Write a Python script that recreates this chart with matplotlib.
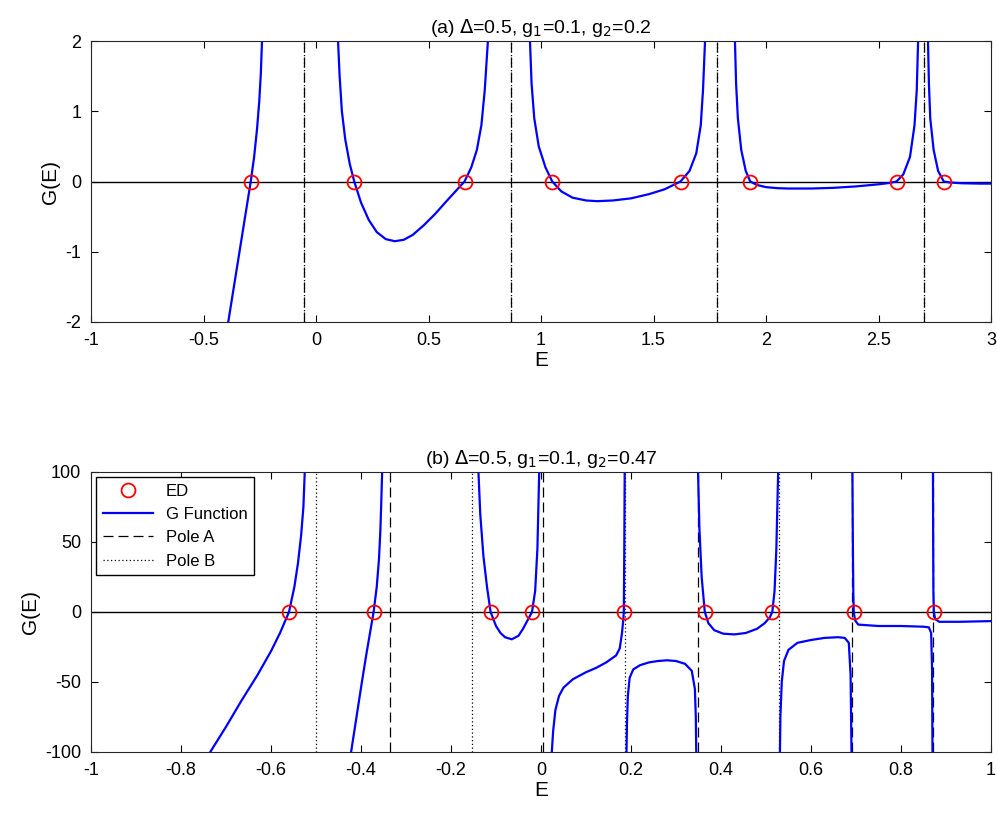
import matplotlib
matplotlib.use("Agg")
import matplotlib.pyplot as plt

plt.rcParams["font.family"] = "Liberation Sans"
plt.rcParams["font.size"] = 13

# (a) branches of G(E)
a_branches = [
    ([-0.39, -0.37, -0.35, -0.33, -0.31, -0.29, -0.275, -0.262, -0.252, -0.245, -0.24],
     [-2, -1.6, -1.2, -0.8, -0.4, 0, 0.35, 0.75, 1.15, 1.55, 2]),
    ([0.098, 0.105, 0.115, 0.13, 0.15, 0.17, 0.2, 0.235, 0.27, 0.31, 0.35, 0.39, 0.43, 0.48,
      0.53, 0.58, 0.62, 0.66, 0.69, 0.715, 0.735, 0.75, 0.764],
     [2, 1.5, 1.0, 0.6, 0.25, 0, -0.3, -0.55, -0.72, -0.82, -0.85, -0.83, -0.76, -0.62,
      -0.46, -0.28, -0.14, 0, 0.2, 0.45, 0.8, 1.3, 2]),
    ([0.951, 0.958, 0.97, 0.99, 1.02, 1.05, 1.09, 1.14, 1.2, 1.25, 1.32, 1.4, 1.48, 1.55,
      1.62, 1.66, 1.69, 1.71, 1.72, 1.729],
     [2, 1.4, 0.9, 0.5, 0.2, 0, -0.14, -0.23, -0.27, -0.28, -0.27, -0.24, -0.18, -0.11,
      0, 0.15, 0.4, 0.8, 1.3, 2]),
    ([1.862, 1.867, 1.875, 1.89, 1.91, 1.93, 1.96, 2.0, 2.05, 2.1, 2.2, 2.3, 2.4, 2.5,
      2.55, 2.58, 2.61, 2.64, 2.66, 2.67, 2.676],
     [2, 1.4, 0.9, 0.45, 0.15, 0, -0.05, -0.08, -0.095, -0.1, -0.1, -0.09, -0.07, -0.04,
      -0.02, 0, 0.1, 0.35, 0.8, 1.3, 2]),
    ([2.72, 2.724, 2.73, 2.745, 2.765, 2.79, 2.82, 2.87, 2.95, 3.0],
     [2, 1.4, 0.9, 0.45, 0.15, 0, -0.015, -0.025, -0.03, -0.03]),
]
a_ed = [-0.29, 0.17, 0.66, 1.05, 1.62, 1.93, 2.58, 2.79]
a_poles = [-0.053, 0.867, 1.782, 2.702]

# (b)
b_branches = [
    ([-0.735, -0.70, -0.665, -0.63, -0.60, -0.58, -0.56, -0.548, -0.54, -0.533, -0.528, -0.525],
     [-100, -82, -63, -45, -28, -15, 0, 18, 35, 55, 75, 100]),
    ([-0.422, -0.41, -0.398, -0.388, -0.38, -0.372, -0.365, -0.36, -0.357, -0.355, -0.353],
     [-100, -75, -50, -30, -15, 0, 18, 38, 58, 78, 100]),
    ([-0.139, -0.135, -0.128, -0.12, -0.112, -0.1, -0.09, -0.08, -0.065, -0.05, -0.04, -0.03,
      -0.02, -0.013, -0.008, -0.004],
     [100, 70, 40, 18, 0, -10, -15, -18, -19.5, -17, -12, -6, 0, 15, 45, 100]),
    ([0.024, 0.027, 0.032, 0.04, 0.05, 0.071, 0.1, 0.122, 0.145, 0.167, 0.175, 0.18, 0.183,
      0.184, 0.185, 0.186],
     [-100, -85, -70, -60, -54, -48, -43, -40, -36, -31, -26, -15, -5, 0, 40, 100]),
    ([0.19, 0.191, 0.193, 0.197, 0.205, 0.22, 0.24, 0.26, 0.28, 0.3, 0.32, 0.335, 0.342,
      0.344, 0.345],
     [-100, -80, -60, -47, -41, -38, -36, -35, -34.5, -35, -37, -42, -55, -75, -100]),
    ([0.349, 0.352, 0.357, 0.364, 0.372, 0.385, 0.405, 0.43, 0.455, 0.48, 0.497, 0.508, 0.514,
      0.519, 0.523, 0.527],
     [100, 60, 25, 0, -8, -13, -15.5, -16, -15, -12, -8, -4, 0, 15, 45, 100]),
    ([0.531, 0.532, 0.535, 0.54, 0.55, 0.57, 0.6, 0.63, 0.66, 0.675, 0.684, 0.688, 0.69],
     [-100, -75, -50, -35, -27, -22, -20, -18.5, -18, -18.5, -22, -45, -100]),
    ([0.692, 0.693, 0.694, 0.695, 0.698, 0.705, 0.75, 0.8, 0.85, 0.862, 0.867, 0.869, 0.87],
     [100, 50, 15, 0, -6, -9, -10, -10, -10.5, -11, -15, -40, -100]),
    ([0.871, 0.8715, 0.872, 0.873, 0.876, 0.885, 0.93, 1.0],
     [100, 50, 15, 0, -5, -7, -7, -6.5]),
]
b_ed = [-0.56, -0.372, -0.112, -0.02, 0.184, 0.364, 0.514, 0.695, 0.873]
b_poles_a = [-0.335, 0.004, 0.348, 0.691, 0.870]
b_poles_b = [-0.5, -0.154, 0.186, 0.528]


def style(ax):
    ax.tick_params(direction="in", top=True, right=True, length=5, pad=7)
    for s in ax.spines.values():
        s.set_linewidth(0.8)
        s.set_color("#262626")


fig = plt.figure(figsize=(9.97, 8.19), dpi=100)
ax1 = fig.add_axes([91 / 997, 1 - 322 / 819, 900 / 997, 281 / 819])
ax2 = fig.add_axes([91 / 997, 1 - 752 / 819, 900 / 997, 280 / 819])

ax1.axhline(0, color="k", lw=1)
for p in a_poles:
    ax1.axvline(p, color="k", ls=(0, (8, 4)), lw=0.9)
    ax1.axvline(p, color="k", ls=(0, (1, 2)), lw=0.9)
for x, y in a_branches:
    ax1.plot(x, y, color="b", lw=1.6)
ax1.plot(a_ed, [0] * len(a_ed), "o", mfc="none", mec="r", ms=10, mew=1.3)
ax1.set_xlim(-1, 3)
ax1.set_ylim(-2, 2)
ax1.set_xticks([-1, -0.5, 0, 0.5, 1, 1.5, 2, 2.5, 3])
ax1.set_xticklabels(["-1", "-0.5", "0", "0.5", "1", "1.5", "2", "2.5", "3"])
ax1.set_yticks([-2, -1, 0, 1, 2])
ax1.set_yticklabels(["-2", "-1", "0", "1", "2"])
ax1.set_xlabel("E", fontsize=15, labelpad=2)
ax1.set_ylabel("G(E)", fontsize=15)
ax1.set_title(r"(a) $\Delta$=0.5, g$_1$=0.1, g$_2$=0.2", fontsize=14)
style(ax1)

ax2.axhline(0, color="k", lw=1)
for i, p in enumerate(b_poles_a):
    ax2.axvline(p, color="k", ls=(0, (8, 4)), lw=0.9, label="Pole A" if i == 0 else None)
for i, p in enumerate(b_poles_b):
    ax2.axvline(p, color="k", ls=(0, (1, 2)), lw=0.9, label="Pole B" if i == 0 else None)
for i, (x, y) in enumerate(b_branches):
    ax2.plot(x, y, color="b", lw=1.6, label="G Function" if i == 0 else None)
ax2.plot(b_ed, [0] * len(b_ed), "o", mfc="none", mec="r", ms=10, mew=1.3, label="ED")
ax2.set_xlim(-1, 1)
ax2.set_ylim(-100, 100)
ax2.set_xticks([-1, -0.8, -0.6, -0.4, -0.2, 0, 0.2, 0.4, 0.6, 0.8, 1])
ax2.set_xticklabels(["-1", "-0.8", "-0.6", "-0.4", "-0.2", "0", "0.2", "0.4", "0.6", "0.8", "1"])
ax2.set_yticks([-100, -50, 0, 50, 100])
ax2.set_yticklabels(["-100", "-50", "0", "50", "100"])
ax2.set_xlabel("E", fontsize=15, labelpad=2)
ax2.set_ylabel("G(E)", fontsize=15)
ax2.set_title(r"(b) $\Delta$=0.5, g$_1$=0.1, g$_2$=0.47", fontsize=14)
h, l = ax2.get_legend_handles_labels()
order = [l.index(k) for k in ["ED", "G Function", "Pole A", "Pole B"]]
ax2.legend([h[i] for i in order], [l[i] for i in order], loc="upper left",
           fancybox=False, edgecolor="k", framealpha=1, fontsize=12,
           borderaxespad=0.3, handlelength=3)
style(ax2)

fig.savefig("out.png", dpi=100)
